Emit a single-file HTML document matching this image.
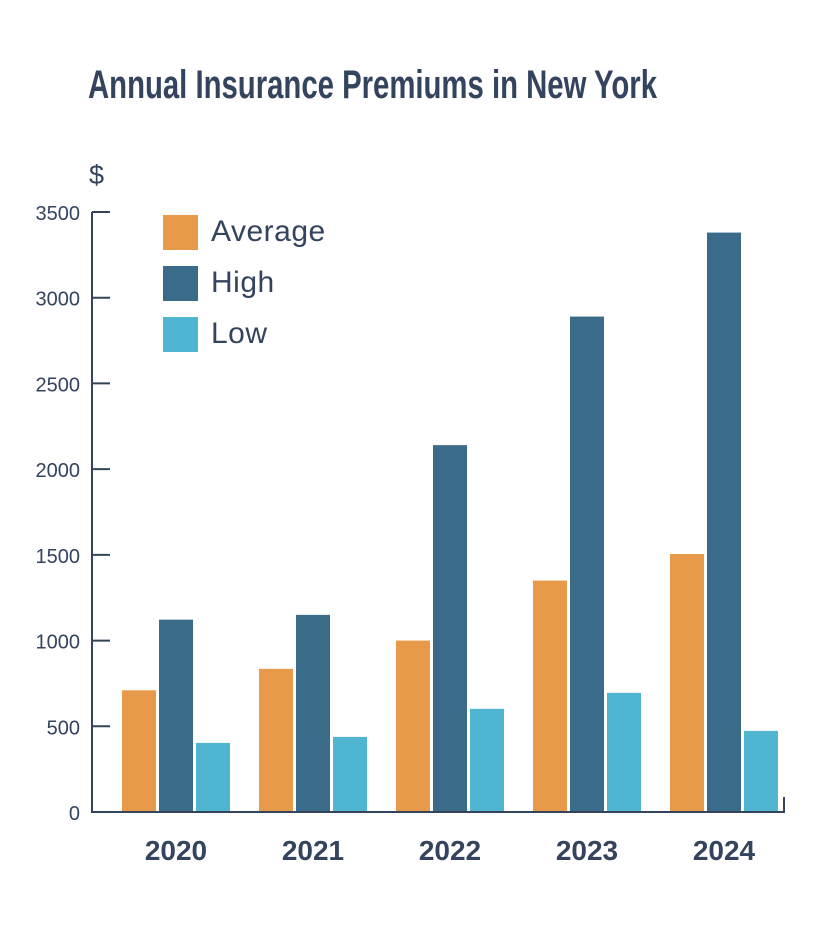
<!DOCTYPE html>
<html><head><meta charset="utf-8"><style>
html,body{margin:0;padding:0;background:#fff;}
svg{display:block;font-family:"Liberation Sans",sans-serif;}
</style></head><body>
<svg id="chart" width="822" height="952" viewBox="0 0 822 952">
<text x="88" y="98" font-family="'Liberation Sans Narrow','Liberation Sans',sans-serif" font-weight="bold" font-size="40" fill="#34435e" textLength="569" lengthAdjust="spacingAndGlyphs">Annual Insurance Premiums in New York</text>
<text x="89" y="184" font-size="27" fill="#34435e">$</text>
<g id="yaxis"></g>
<g id="bars"></g>
<g id="xaxis"></g>
<g id="legend"></g>
</svg>
<script>
const categories = ["2020","2021","2022","2023","2024"];
const seriesNames = ["Average","High","Low"];
const averageValues = [710, 835, 1000, 1350, 1505];
const highValues = [1122, 1150, 2140, 2890, 3380];
const lowValues = [403, 438, 602, 695, 473];
const yTicks = [0,500,1000,1500,2000,2500,3000,3500];
const colors = ["#e89a4b","#3a6c8a","#4fb5d0"];
const NS="http://www.w3.org/2000/svg";
const y0=812, yTop=212, yMax=3500;
function yScale(v){return y0-(v/yMax)*(y0-yTop);}
function xGroup(i){return 122+i*137;}
function mk(tag,attrs,parent){const e=document.createElementNS(NS,tag);for(const k in attrs)e.setAttribute(k,attrs[k]);parent.appendChild(e);return e;}
const ya=document.getElementById('yaxis');
let ax=mk('line',{x1:92,y1:yTop,x2:92,y2:y0,stroke:'#34435e','stroke-width':2},ya);


yTicks.forEach(t=>{
  const y=yScale(t);
  if(t>0){const l=mk('line',{x1:92,y1:y,x2:110,y2:y,stroke:'#34435e','stroke-width':2},ya);
  
  }
  const tx=mk('text',{x:80,y:y+8,'text-anchor':'end','font-size':20,fill:'#34435e'},ya);
  tx.textContent=t;
  
  
});
const xa=document.getElementById('xaxis');
let bx=mk('line',{x1:91,y1:y0,x2:785,y2:y0,stroke:'#34435e','stroke-width':2},xa);


let et=mk('line',{x1:784,y1:797,x2:784,y2:812,stroke:'#34435e','stroke-width':2},xa);


const bars=document.getElementById('bars');
const series=[averageValues,highValues,lowValues];
categories.forEach((c,i)=>{
  series.forEach((vals,s)=>{
    const x=xGroup(i)+s*37, y=yScale(vals[i]);
    const r=mk('rect',{x:x,y:y,width:34,height:y0-y,fill:colors[s]},bars);
    
    
  });
  const t=mk('text',{x:xGroup(i)+54,y:860,'text-anchor':'middle','font-size':28,'font-weight':'bold',fill:'#34435e'},xa);
  t.textContent=c;
  
  
});
const lg=document.getElementById('legend');
seriesNames.forEach((n,i)=>{
  const y=215+i*51;
  const r=mk('rect',{x:163,y:y,width:35,height:35,fill:colors[i]},lg);
  
  
  const t=mk('text',{x:211,y:y+26,'font-size':30,'letter-spacing':0.5,fill:'#34435e'},lg);
  t.textContent=n;
  
  
});
</script>
</body></html>
